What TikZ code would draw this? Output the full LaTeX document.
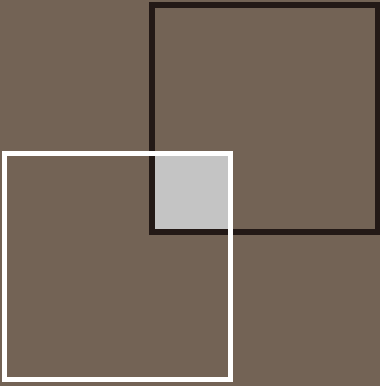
\documentclass[tikz,border=0pt]{standalone}
\definecolor{bgbrown}{RGB}{115,99,85}
\definecolor{darkline}{RGB}{35,25,22}
\definecolor{lightfill}{RGB}{196,196,196}
\begin{document}
\begin{tikzpicture}[x=1pt,y=-1pt,line join=miter,
  darksq/.style={draw=darkline,line width=6pt},
  whitesq/.style={draw=white,line width=5pt}]
\fill[bgbrown] (0,0) rectangle (380,386);
\useasboundingbox (0,0) rectangle (380,386);
\fill[lightfill] (154,155) rectangle (229,230);
\draw[darksq] (152,5) rectangle (378,232);
\draw[whitesq] (4,153.5) rectangle (230.5,379.5);
\end{tikzpicture}
\end{document}
